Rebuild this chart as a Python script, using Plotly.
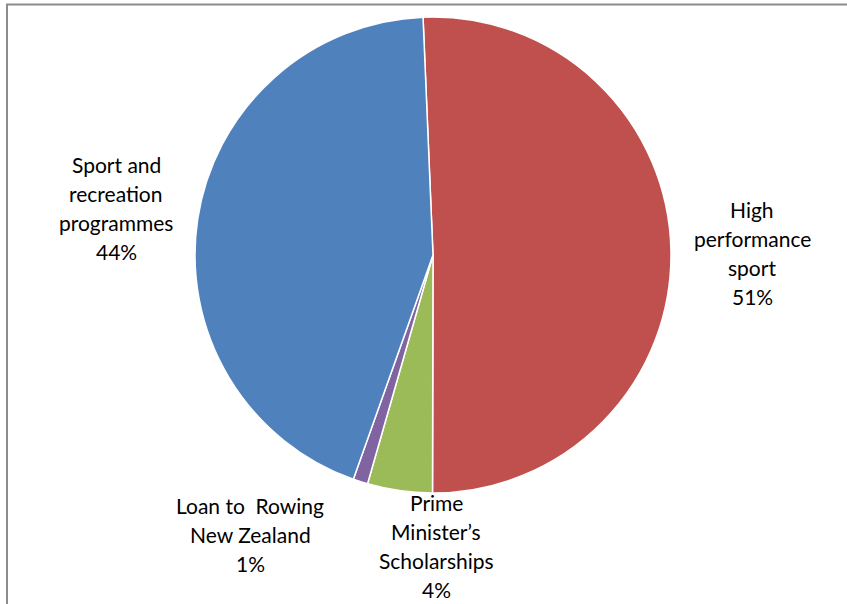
import plotly.graph_objects as go

categories = ["High performance sport", "Prime Minister’s Scholarships",
              "Loan to Rowing New Zealand", "Sport and recreation programmes"]
label_lines = [["High", "performance", "sport"],
               ["Prime", "Minister’s", "Scholarships"],
               ["Loan to  Rowing", "New Zealand"],
               ["Sport and", "recreation", "programmes"]]
values = [50.7, 4.4, 1.0, 43.9]
colors = ["#C0504D", "#9BBB59", "#8064A2", "#4F81BD"]

W, H = 847, 604
# label block centres (pixels)
label_pos = [(752, 253), (436, 546), (250, 534), (116, 208)]
line_h = 29
font = dict(family="Lato, 'Open Sans', sans-serif", size=21, color="#000000")

fig = go.Figure(go.Pie(
    labels=categories, values=values, sort=False, direction="clockwise",
    rotation=-2.4, textinfo="none", hoverinfo="label+percent",
    marker=dict(colors=colors, line=dict(color="white", width=1.5)),
    domain=dict(x=[195 / W, 671 / W], y=[1 - 493 / H, 1 - 17 / H]),
    showlegend=False,
))

total = sum(values)
annotations = []
for lines, v, (cx, cy) in zip(label_lines, values, label_pos):
    all_lines = lines + [f"{round(100 * v / total)}%"]
    n = len(all_lines)
    for i, t in enumerate(all_lines):
        y = cy + (i - (n - 1) / 2) * line_h
        annotations.append(dict(text=t, x=cx / W, y=1 - y / H, xref="paper", yref="paper",
                                xanchor="center", yanchor="middle", showarrow=False, font=font))

shapes = [
    dict(type="rect", xref="paper", yref="paper", x0=7 / W, x1=1.05, y0=-0.05, y1=1 - 4.5 / H,
         line=dict(color="#8c8c8c", width=2), fillcolor="rgba(0,0,0,0)", layer="above"),
]

fig.update_layout(width=W, height=H, margin=dict(l=0, r=0, t=0, b=0),
                  paper_bgcolor="white", plot_bgcolor="white",
                  annotations=annotations, shapes=shapes)
fig.write_html("out.html", config={"displayModeBar": False},
               post_script="document.body.style.margin='0';document.body.style.overflow='hidden';")
